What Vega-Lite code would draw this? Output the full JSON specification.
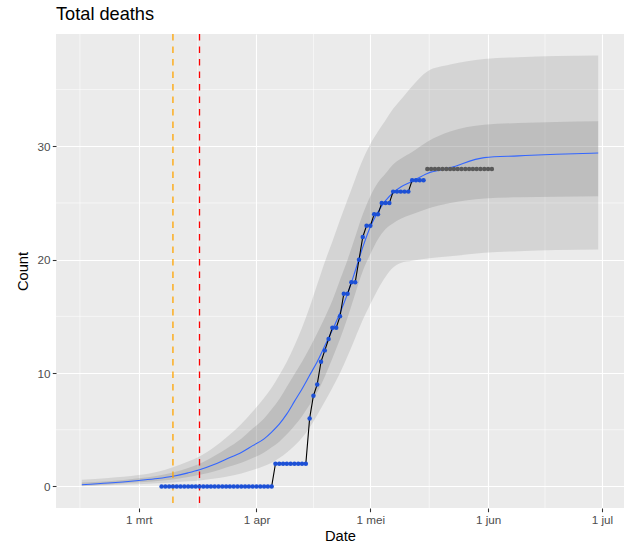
{
  "$schema": "https://vega.github.io/schema/vega-lite/v6.json",
  "width": 568,
  "height": 474,
  "autosize": {"type": "none"},
  "padding": {"left": 56, "top": 34, "right": 3, "bottom": 42},
  "background": "white",
  "title": {"text": "Total deaths", "anchor": "start", "frame": "group", "fontSize": 18.2, "font": "Liberation Sans", "fontWeight": "normal", "color": "black", "baseline": "alphabetic", "offset": 13, "dy": 18},
  "config": {"view": {"fill": "#EBEBEB", "stroke": null}, "font": "Liberation Sans"},
  "datasets": {
    "minor_x": [
      {"date": "2020-02-14T12:00"}, {"date": "2020-03-16T12:00"}, {"date": "2020-04-16T00:00"}, {"date": "2020-05-16T12:00"}, {"date": "2020-06-16T00:00"}
    ],
    "minor_y": [{"value": 5}, {"value": 15}, {"value": 25}, {"value": 35}],
    "events": [
      {"date": "2020-03-10T00:00", "event": "first"},
      {"date": "2020-03-17T00:00", "event": "second"}
    ],
    "fit": [
      {"date": "2020-02-15T00:00", "fit": 0.15, "lo95": 0.02, "hi95": 0.6, "lo50": 0.08, "hi50": 0.35},
      {"date": "2020-02-22T00:00", "fit": 0.3, "lo95": 0.1, "hi95": 0.75, "lo50": 0.18, "hi50": 0.45},
      {"date": "2020-03-01T00:00", "fit": 0.53, "lo95": 0.2, "hi95": 1.0, "lo50": 0.36, "hi50": 0.72},
      {"date": "2020-03-06T00:00", "fit": 0.7, "lo95": 0.28, "hi95": 1.3, "lo50": 0.48, "hi50": 0.95},
      {"date": "2020-03-10T00:00", "fit": 0.9, "lo95": 0.35, "hi95": 1.7, "lo50": 0.62, "hi50": 1.22},
      {"date": "2020-03-14T00:00", "fit": 1.2, "lo95": 0.45, "hi95": 2.2, "lo50": 0.83, "hi50": 1.63},
      {"date": "2020-03-17T00:00", "fit": 1.47, "lo95": 0.53, "hi95": 2.65, "lo50": 1.03, "hi50": 2.0},
      {"date": "2020-03-21T00:00", "fit": 1.95, "lo95": 0.7, "hi95": 3.5, "lo50": 1.35, "hi50": 2.7},
      {"date": "2020-03-24T00:00", "fit": 2.4, "lo95": 0.85, "hi95": 4.3, "lo50": 1.68, "hi50": 3.3},
      {"date": "2020-03-28T00:00", "fit": 3.0, "lo95": 1.15, "hi95": 5.5, "lo50": 2.1, "hi50": 4.2},
      {"date": "2020-03-31T00:00", "fit": 3.6, "lo95": 1.45, "hi95": 6.6, "lo50": 2.5, "hi50": 5.1},
      {"date": "2020-04-03T00:00", "fit": 4.2, "lo95": 1.8, "hi95": 7.8, "lo50": 3.0, "hi50": 6.0},
      {"date": "2020-04-05T00:00", "fit": 4.8, "lo95": 2.1, "hi95": 8.7, "lo50": 3.45, "hi50": 6.8},
      {"date": "2020-04-07T00:00", "fit": 5.5, "lo95": 2.5, "hi95": 9.8, "lo50": 3.95, "hi50": 7.7},
      {"date": "2020-04-09T00:00", "fit": 6.4, "lo95": 3.0, "hi95": 11.0, "lo50": 4.6, "hi50": 8.8},
      {"date": "2020-04-11T00:00", "fit": 7.5, "lo95": 3.6, "hi95": 12.4, "lo50": 5.35, "hi50": 9.9},
      {"date": "2020-04-13T00:00", "fit": 8.6, "lo95": 4.3, "hi95": 14.0, "lo50": 6.2, "hi50": 11.0},
      {"date": "2020-04-15T00:00", "fit": 9.8, "lo95": 5.2, "hi95": 15.8, "lo50": 7.2, "hi50": 12.2},
      {"date": "2020-04-17T00:00", "fit": 11.0, "lo95": 6.3, "hi95": 17.8, "lo50": 8.3, "hi50": 13.5},
      {"date": "2020-04-19T00:00", "fit": 12.4, "lo95": 7.5, "hi95": 19.8, "lo50": 9.7, "hi50": 14.9},
      {"date": "2020-04-21T00:00", "fit": 13.8, "lo95": 8.7, "hi95": 21.6, "lo50": 11.3, "hi50": 16.4},
      {"date": "2020-04-23T00:00", "fit": 15.3, "lo95": 10.0, "hi95": 23.5, "lo50": 13.0, "hi50": 18.2},
      {"date": "2020-04-25T00:00", "fit": 17.0, "lo95": 11.5, "hi95": 25.3, "lo50": 14.9, "hi50": 20.0},
      {"date": "2020-04-27T00:00", "fit": 19.0, "lo95": 13.1, "hi95": 27.1, "lo50": 17.0, "hi50": 22.0},
      {"date": "2020-04-29T00:00", "fit": 21.1, "lo95": 14.7, "hi95": 28.8, "lo50": 19.0, "hi50": 24.0},
      {"date": "2020-05-01T00:00", "fit": 22.9, "lo95": 16.1, "hi95": 30.2, "lo50": 20.5, "hi50": 25.6},
      {"date": "2020-05-03T00:00", "fit": 24.2, "lo95": 17.4, "hi95": 31.3, "lo50": 21.8, "hi50": 26.8},
      {"date": "2020-05-05T00:00", "fit": 25.2, "lo95": 18.5, "hi95": 32.3, "lo50": 22.7, "hi50": 27.6},
      {"date": "2020-05-07T00:00", "fit": 25.9, "lo95": 19.3, "hi95": 33.3, "lo50": 23.2, "hi50": 28.4},
      {"date": "2020-05-09T00:00", "fit": 26.4, "lo95": 19.7, "hi95": 34.1, "lo50": 23.6, "hi50": 28.9},
      {"date": "2020-05-12T00:00", "fit": 26.9, "lo95": 19.9, "hi95": 35.3, "lo50": 24.0, "hi50": 29.5},
      {"date": "2020-05-16T00:00", "fit": 27.6, "lo95": 20.1, "hi95": 36.6, "lo50": 24.5, "hi50": 30.4},
      {"date": "2020-05-22T00:00", "fit": 28.1, "lo95": 20.3, "hi95": 37.2, "lo50": 25.0, "hi50": 31.3},
      {"date": "2020-05-31T00:00", "fit": 29.0, "lo95": 20.6, "hi95": 37.7, "lo50": 25.4, "hi50": 31.9},
      {"date": "2020-06-09T00:00", "fit": 29.15, "lo95": 20.75, "hi95": 37.85, "lo50": 25.5, "hi50": 32.05},
      {"date": "2020-06-19T00:00", "fit": 29.3, "lo95": 20.85, "hi95": 37.95, "lo50": 25.55, "hi50": 32.15},
      {"date": "2020-06-30T00:00", "fit": 29.4, "lo95": 20.9, "hi95": 38.0, "lo50": 25.6, "hi50": 32.2}
    ],
    "obs": [
      {"date": "2020-03-07T00:00", "count": 0, "status": "reported"},
      {"date": "2020-03-08T00:00", "count": 0, "status": "reported"},
      {"date": "2020-03-09T00:00", "count": 0, "status": "reported"},
      {"date": "2020-03-10T00:00", "count": 0, "status": "reported"},
      {"date": "2020-03-11T00:00", "count": 0, "status": "reported"},
      {"date": "2020-03-12T00:00", "count": 0, "status": "reported"},
      {"date": "2020-03-13T00:00", "count": 0, "status": "reported"},
      {"date": "2020-03-14T00:00", "count": 0, "status": "reported"},
      {"date": "2020-03-15T00:00", "count": 0, "status": "reported"},
      {"date": "2020-03-16T00:00", "count": 0, "status": "reported"},
      {"date": "2020-03-17T00:00", "count": 0, "status": "reported"},
      {"date": "2020-03-18T00:00", "count": 0, "status": "reported"},
      {"date": "2020-03-19T00:00", "count": 0, "status": "reported"},
      {"date": "2020-03-20T00:00", "count": 0, "status": "reported"},
      {"date": "2020-03-21T00:00", "count": 0, "status": "reported"},
      {"date": "2020-03-22T00:00", "count": 0, "status": "reported"},
      {"date": "2020-03-23T00:00", "count": 0, "status": "reported"},
      {"date": "2020-03-24T00:00", "count": 0, "status": "reported"},
      {"date": "2020-03-25T00:00", "count": 0, "status": "reported"},
      {"date": "2020-03-26T00:00", "count": 0, "status": "reported"},
      {"date": "2020-03-27T00:00", "count": 0, "status": "reported"},
      {"date": "2020-03-28T00:00", "count": 0, "status": "reported"},
      {"date": "2020-03-29T00:00", "count": 0, "status": "reported"},
      {"date": "2020-03-30T00:00", "count": 0, "status": "reported"},
      {"date": "2020-03-31T00:00", "count": 0, "status": "reported"},
      {"date": "2020-04-01T00:00", "count": 0, "status": "reported"},
      {"date": "2020-04-02T00:00", "count": 0, "status": "reported"},
      {"date": "2020-04-03T00:00", "count": 0, "status": "reported"},
      {"date": "2020-04-04T00:00", "count": 0, "status": "reported"},
      {"date": "2020-04-05T00:00", "count": 0, "status": "reported"},
      {"date": "2020-04-06T00:00", "count": 2, "status": "reported"},
      {"date": "2020-04-07T00:00", "count": 2, "status": "reported"},
      {"date": "2020-04-08T00:00", "count": 2, "status": "reported"},
      {"date": "2020-04-09T00:00", "count": 2, "status": "reported"},
      {"date": "2020-04-10T00:00", "count": 2, "status": "reported"},
      {"date": "2020-04-11T00:00", "count": 2, "status": "reported"},
      {"date": "2020-04-12T00:00", "count": 2, "status": "reported"},
      {"date": "2020-04-13T00:00", "count": 2, "status": "reported"},
      {"date": "2020-04-14T00:00", "count": 2, "status": "reported"},
      {"date": "2020-04-15T00:00", "count": 6, "status": "reported"},
      {"date": "2020-04-16T00:00", "count": 8, "status": "reported"},
      {"date": "2020-04-17T00:00", "count": 9, "status": "reported"},
      {"date": "2020-04-18T00:00", "count": 11, "status": "reported"},
      {"date": "2020-04-19T00:00", "count": 12, "status": "reported"},
      {"date": "2020-04-20T00:00", "count": 13, "status": "reported"},
      {"date": "2020-04-21T00:00", "count": 14, "status": "reported"},
      {"date": "2020-04-22T00:00", "count": 14, "status": "reported"},
      {"date": "2020-04-23T00:00", "count": 15, "status": "reported"},
      {"date": "2020-04-24T00:00", "count": 17, "status": "reported"},
      {"date": "2020-04-25T00:00", "count": 17, "status": "reported"},
      {"date": "2020-04-26T00:00", "count": 18, "status": "reported"},
      {"date": "2020-04-27T00:00", "count": 18, "status": "reported"},
      {"date": "2020-04-28T00:00", "count": 20, "status": "reported"},
      {"date": "2020-04-29T00:00", "count": 22, "status": "reported"},
      {"date": "2020-04-30T00:00", "count": 23, "status": "reported"},
      {"date": "2020-05-01T00:00", "count": 23, "status": "reported"},
      {"date": "2020-05-02T00:00", "count": 24, "status": "reported"},
      {"date": "2020-05-03T00:00", "count": 24, "status": "reported"},
      {"date": "2020-05-04T00:00", "count": 25, "status": "reported"},
      {"date": "2020-05-05T00:00", "count": 25, "status": "reported"},
      {"date": "2020-05-06T00:00", "count": 25, "status": "reported"},
      {"date": "2020-05-07T00:00", "count": 26, "status": "reported"},
      {"date": "2020-05-08T00:00", "count": 26, "status": "reported"},
      {"date": "2020-05-09T00:00", "count": 26, "status": "reported"},
      {"date": "2020-05-10T00:00", "count": 26, "status": "reported"},
      {"date": "2020-05-11T00:00", "count": 26, "status": "reported"},
      {"date": "2020-05-12T00:00", "count": 27, "status": "reported"},
      {"date": "2020-05-13T00:00", "count": 27, "status": "reported"},
      {"date": "2020-05-14T00:00", "count": 27, "status": "reported"},
      {"date": "2020-05-15T00:00", "count": 27, "status": "reported"},
      {"date": "2020-05-16T00:00", "count": 28, "status": "pending"},
      {"date": "2020-05-17T00:00", "count": 28, "status": "pending"},
      {"date": "2020-05-18T00:00", "count": 28, "status": "pending"},
      {"date": "2020-05-19T00:00", "count": 28, "status": "pending"},
      {"date": "2020-05-20T00:00", "count": 28, "status": "pending"},
      {"date": "2020-05-21T00:00", "count": 28, "status": "pending"},
      {"date": "2020-05-22T00:00", "count": 28, "status": "pending"},
      {"date": "2020-05-23T00:00", "count": 28, "status": "pending"},
      {"date": "2020-05-24T00:00", "count": 28, "status": "pending"},
      {"date": "2020-05-25T00:00", "count": 28, "status": "pending"},
      {"date": "2020-05-26T00:00", "count": 28, "status": "pending"},
      {"date": "2020-05-27T00:00", "count": 28, "status": "pending"},
      {"date": "2020-05-28T00:00", "count": 28, "status": "pending"},
      {"date": "2020-05-29T00:00", "count": 28, "status": "pending"},
      {"date": "2020-05-30T00:00", "count": 28, "status": "pending"},
      {"date": "2020-05-31T00:00", "count": 28, "status": "pending"},
      {"date": "2020-06-01T00:00", "count": 28, "status": "pending"},
      {"date": "2020-06-02T00:00", "count": 28, "status": "pending"}
    ]
  },
  "layer": [
    {
      "data": {"name": "minor_x"},
      "mark": {"type": "rule", "color": "white", "strokeWidth": 0.55},
      "encoding": {
        "x": {"field": "date", "type": "temporal", "title": "Date",
          "scale": {"domain": [{"year": 2020, "month": 2, "date": 8, "hours": 4, "minutes": 48}, {"year": 2020, "month": 7, "date": 6, "hours": 19, "minutes": 12}]},
          "axis": {"values": [{"year": 2020, "month": 3, "date": 1}, {"year": 2020, "month": 4, "date": 1}, {"year": 2020, "month": 5, "date": 1}, {"year": 2020, "month": 6, "date": 1}, {"year": 2020, "month": 7, "date": 1}],
            "labelExpr": "date(datum.value) + ' ' + ['jan','feb','mrt','apr','mei','jun','jul','aug','sep','okt','nov','dec'][month(datum.value)]",
            "grid": true, "gridColor": "white", "gridWidth": 1.1, "domain": false,
            "tickColor": "#333333", "tickSize": 3.7, "tickWidth": 1.07,
            "labelColor": "#4D4D4D", "labelFontSize": 11.7, "labelFont": "Liberation Sans", "labelPadding": 2.4, "labelFlush": false, "labelOverlap": false,
            "titleFont": "Liberation Sans", "titleFontSize": 14.7, "titleFontWeight": "normal", "titleColor": "black", "titlePadding": 3}}
      }
    },
    {
      "data": {"name": "minor_y"},
      "mark": {"type": "rule", "color": "white", "strokeWidth": 0.55},
      "encoding": {
        "y": {"field": "value", "type": "quantitative", "title": "Count",
          "scale": {"domain": [-1.9, 39.9], "nice": false, "zero": false},
          "axis": {"values": [0, 10, 20, 30],
            "grid": true, "gridColor": "white", "gridWidth": 1.1, "domain": false,
            "tickColor": "#333333", "tickSize": 3.7, "tickWidth": 1.07,
            "labelColor": "#4D4D4D", "labelFontSize": 11.7, "labelFont": "Liberation Sans", "labelPadding": 2.4,
            "titleFont": "Liberation Sans", "titleFontSize": 14.7, "titleFontWeight": "normal", "titleColor": "black", "titlePadding": 6}}
      }
    },
    {
      "data": {"name": "fit"},
      "mark": {"type": "area", "color": "#7F7F7F", "opacity": 0.21, "interpolate": "monotone"},
      "encoding": {
        "x": {"field": "date", "type": "temporal", "title": "Date"},
        "y": {"field": "lo95", "type": "quantitative", "title": "Count"},
        "y2": {"field": "hi95"}
      }
    },
    {
      "data": {"name": "fit"},
      "mark": {"type": "area", "color": "#7F7F7F", "opacity": 0.26, "interpolate": "monotone"},
      "encoding": {
        "x": {"field": "date", "type": "temporal", "title": "Date"},
        "y": {"field": "lo50", "type": "quantitative", "title": "Count"},
        "y2": {"field": "hi50"}
      }
    },
    {
      "data": {"name": "fit"},
      "mark": {"type": "line", "color": "#3366FF", "strokeWidth": 1.1, "interpolate": "monotone"},
      "encoding": {
        "x": {"field": "date", "type": "temporal", "title": "Date"},
        "y": {"field": "fit", "type": "quantitative", "title": "Count"}
      }
    },
    {
      "data": {"name": "events"},
      "transform": [{"filter": "datum.event == 'first'"}],
      "mark": {"type": "rule", "strokeWidth": 1.3, "strokeDash": [6.5, 6], "stroke": "#FFA500"},
      "encoding": {
        "x": {"field": "date", "type": "temporal", "title": "Date"}
      }
    },
    {
      "data": {"name": "events"},
      "transform": [{"filter": "datum.event == 'second'"}],
      "mark": {"type": "rule", "strokeWidth": 1.3, "strokeDash": [6.5, 6], "stroke": "#FF0000"},
      "encoding": {
        "x": {"field": "date", "type": "temporal", "title": "Date"}
      }
    },
    {
      "data": {"name": "obs"},
      "transform": [{"filter": "datum.status == 'reported'"}],
      "mark": {"type": "line", "color": "black", "strokeWidth": 1.1},
      "encoding": {
        "x": {"field": "date", "type": "temporal", "title": "Date"},
        "y": {"field": "count", "type": "quantitative", "title": "Count"}
      }
    },
    {
      "data": {"name": "obs"},
      "transform": [{"filter": "datum.status == 'reported'"}],
      "mark": {"type": "circle", "color": "#1C50D6", "opacity": 1, "size": 20},
      "encoding": {
        "x": {"field": "date", "type": "temporal", "title": "Date"},
        "y": {"field": "count", "type": "quantitative", "title": "Count"}
      }
    },
    {
      "data": {"name": "obs"},
      "transform": [{"filter": "datum.status == 'pending'"}],
      "mark": {"type": "circle", "color": "#595959", "opacity": 1, "size": 20},
      "encoding": {
        "x": {"field": "date", "type": "temporal", "title": "Date"},
        "y": {"field": "count", "type": "quantitative", "title": "Count"}
      }
    }
  ]
}
